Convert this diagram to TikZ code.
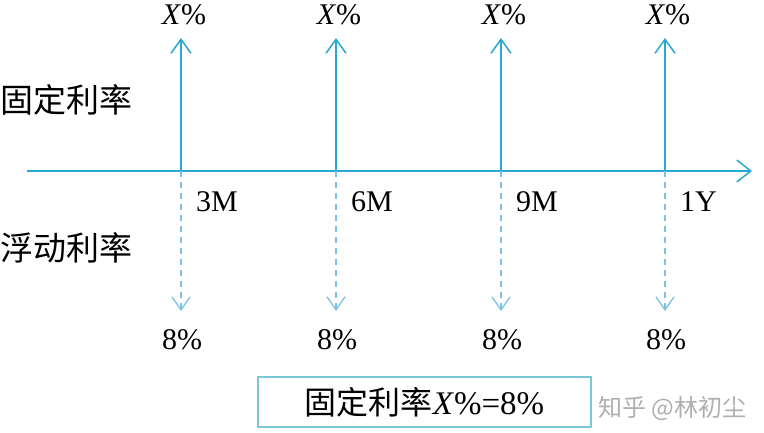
\documentclass[tikz,border=0pt]{standalone}
\usepackage{fontspec}
\setmainfont{Liberation Serif}
\newfontfamily\cjk{Noto Sans CJK SC}
\usetikzlibrary{arrows.meta}
\definecolor{axisblue}{RGB}{38,168,208}
\definecolor{dashblue}{RGB}{125,195,225}
\definecolor{boxblue}{RGB}{120,200,215}
\definecolor{wmgray}{RGB}{175,175,175}
\begin{document}
\begin{tikzpicture}[x=1pt,y=-1pt,
  solidarrow/.style={draw=axisblue,line width=1.5pt,-{Straight Barb[length=14pt,width=20pt,line width=1.5pt]}},
  dasharrow/.style={draw=dashblue,line width=1.3pt,dash pattern=on 6pt off 5pt,-{Straight Barb[length=13pt,width=18pt,line width=1.3pt]}},
  lbl/.style={font=\fontsize{30}{34}\selectfont,inner sep=0pt},
  cn/.style={font=\cjk\fontsize{33}{36}\selectfont,inner sep=0pt}]
\useasboundingbox (0,0) rectangle (764,433);
\coordinate (a0) at (27,171);
\coordinate (a1) at (752,171);
\draw[draw=axisblue,line width=1.5pt,-{Straight Barb[length=14pt,width=22pt,line width=1.5pt]}] (a0) -- (a1);
\node[cn,anchor=west] (fix) at (0,100) {固定利率};
\node[cn,anchor=west] (flo) at (0,248) {浮动利率};
\foreach \i/\x/\t in {1/181/3M,2/336/6M,3/501/9M,4/665/1Y}{
  \coordinate (b\i) at (\x,171);
  \coordinate (u\i) at (\x,38);
  \coordinate (d\i) at (\x,311);
  \draw[solidarrow] (b\i) -- (u\i);
  \draw[dasharrow] (b\i) -- (d\i);
  \node[lbl] (x\i) at (\x+3,15) {\textit{X}\%};
  \node[lbl] (p\i) at (\x+1,340) {8\%};
  \node[lbl,anchor=west] (t\i) at (\x+15,202) {\t};
}
\node[draw=boxblue,line width=1.4pt,minimum width=333pt,minimum height=50pt,inner sep=0pt] (box) at (424.5,402) {\cjk\fontsize{32}{36}\selectfont 固定利率\rmfamily\fontsize{33}{36}\selectfont\textit{X}\%=8\%};
\node[font=\cjk\fontsize{24}{28}\selectfont,text=wmgray,anchor=west,inner sep=0pt] (wm) at (598,408) {知乎 @林初尘};
\end{tikzpicture}
\end{document}
